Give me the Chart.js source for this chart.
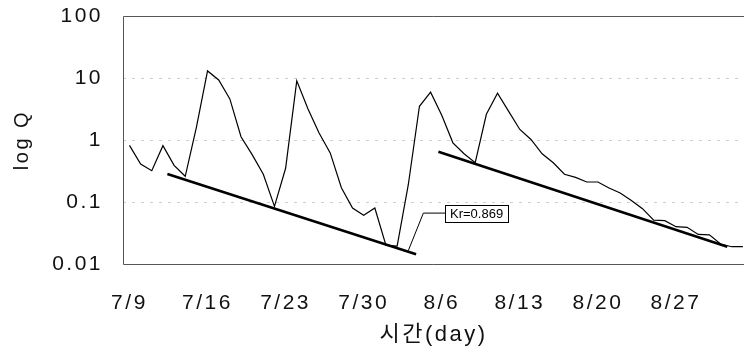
<!DOCTYPE html>
<html>
<head>
<meta charset="utf-8">
<script src="https://cdn.jsdelivr.net/npm/chart.js@4.4.0/dist/chart.umd.min.js"></script>
<style>
    html, body { margin: 0; padding: 0; background: #fff; }
</style>
</head>
<body>
<canvas id="chart" width="744" height="354"></canvas>
<script>
// Daily discharge (log scale), 7/9 - 9/2
const dates = [
    '7/9', '7/10', '7/11', '7/12', '7/13', '7/14', '7/15', '7/16', '7/17', '7/18',
    '7/19', '7/20', '7/21', '7/22', '7/23', '7/24', '7/25', '7/26', '7/27', '7/28',
    '7/29', '7/30', '7/31', '8/1', '8/2', '8/3', '8/4', '8/5', '8/6', '8/7',
    '8/8', '8/9', '8/10', '8/11', '8/12', '8/13', '8/14', '8/15', '8/16', '8/17',
    '8/18', '8/19', '8/20', '8/21', '8/22', '8/23', '8/24', '8/25', '8/26', '8/27',
    '8/28', '8/29', '8/30', '8/31', '9/1', '9/2'
];
const flow = [
    0.82, 0.41, 0.32, 0.81, 0.39, 0.26, 1.6, 13, 9.3, 4.6,
    1.13, 0.58, 0.28, 0.085, 0.35, 9.0, 3.2, 1.3, 0.62, 0.17,
    0.08, 0.061, 0.08, 0.02, 0.0195, 0.19, 3.5, 5.9, 2.5, 0.9,
    0.6, 0.43, 2.6, 5.7, 2.9, 1.48, 1.02, 0.6, 0.43, 0.28,
    0.25, 0.21, 0.21, 0.168, 0.14, 0.106, 0.078, 0.051, 0.05, 0.04,
    0.039, 0.03, 0.0295, 0.021, 0.019, 0.019
];

const xTickLabels = ['7/9', '7/16', '7/23', '7/30', '8/6', '8/13', '8/20', '8/27'];
const yTickValues = [0.01, 0.1, 1, 10, 100];
const yTickLabels = ['0.01', '0.1', '1', '10', '100'];

// recession lines (day index, Q)
const recession1Days = [3.4, 25.7];
const recession1Q = [0.284, 0.0144];
const recession2Days = [27.7, 53.6];
const recession2Q = [0.644, 0.019];

// callout for the recession constant
const leaderDays = [25.0, 26.35, 28.3];
const leaderQ = [0.0164, 0.0662, 0.0662];
const krLabel = 'Kr=0.869';

const FONT = '"Liberation Sans", Arial, "Noto Sans CJK KR", sans-serif';
const xTickDays = xTickLabels.map(l => dates.indexOf(l));

function toPoints(xs, ys) {
    return xs.map((x, i) => ({ x: x, y: ys[i] }));
}

function lineSet(data, width) {
    return {
        data: data,
        borderColor: '#000',
        borderWidth: width,
        pointRadius: 0,
        tension: 0,
        fill: false
    };
}

const spacingPlugin = {
    id: 'spacing',
    beforeUpdate(chart) { chart.ctx.letterSpacing = '2.5px'; },
    beforeDraw(chart) { chart.ctx.letterSpacing = '2.5px'; }
};

const framePlugin = {
    id: 'frame',
    beforeDatasetsDraw(chart) {
        const { ctx, chartArea } = chart;
        const l = Math.round(chartArea.left) + 0.5;
        const t = Math.round(chartArea.top) + 0.5;
        const b = Math.round(chartArea.bottom) + 0.5;
        ctx.save();
        ctx.strokeStyle = '#555';
        ctx.lineWidth = 1;
        ctx.beginPath();
        ctx.moveTo(chartArea.right, t);
        ctx.lineTo(l, t);
        ctx.lineTo(l, b);
        ctx.lineTo(chartArea.right, b);
        ctx.stroke();
        ctx.restore();
    }
};

const krPlugin = {
    id: 'krBox',
    afterDatasetsDraw(chart) {
        const ctx = chart.ctx;
        const x = Math.round(chart.scales.x.getPixelForValue(leaderDays[2]));
        const y = Math.round(chart.scales.y.getPixelForValue(leaderQ[2]));
        ctx.save();
        ctx.letterSpacing = '0px';
        ctx.font = '13px ' + FONT;
        const w = Math.round(ctx.measureText(krLabel).width) + 10;
        const h = 17;
        ctx.fillStyle = '#fff';
        ctx.fillRect(x, y - 8, w, h);
        ctx.strokeStyle = '#000';
        ctx.lineWidth = 1;
        ctx.strokeRect(x + 0.5, y - 8 + 0.5, w, h);
        ctx.fillStyle = '#000';
        ctx.textBaseline = 'middle';
        ctx.fillText(krLabel, x + 5, y + 1);
        ctx.restore();
    }
};

const ctx = document.getElementById('chart').getContext('2d');
new Chart(ctx, {
    type: 'line',
    data: {
        datasets: [
            lineSet(dates.map((d, i) => ({ x: i, y: flow[i] })), 1.2),
            lineSet(toPoints(recession1Days, recession1Q), 2.6),
            lineSet(toPoints(recession2Days, recession2Q), 2.6),
            lineSet(toPoints(leaderDays, leaderQ), 1)
        ]
    },
    options: {
        responsive: false,
        devicePixelRatio: 1,
        animation: false,
        layout: { padding: { top: 16, right: 0, bottom: 0, left: 0 } },
        plugins: {
            legend: { display: false },
            tooltip: { enabled: false }
        },
        scales: {
            x: {
                type: 'linear',
                min: -0.58,
                max: 55.1,
                grid: { display: false },
                border: { display: false },
                afterBuildTicks: function(scale) {
                    scale.ticks = xTickDays.map(v => ({ value: v }));
                },
                afterFit: function(scale) {
                    scale.height = 90;
                    scale.paddingLeft = 0;
                    scale.paddingRight = 0;
                },
                ticks: {
                    autoSkip: false,
                    maxRotation: 0,
                    padding: 19,
                    color: '#111',
                    font: { family: FONT, size: 21 },
                    callback: function(value, index) {
                        return xTickLabels[index];
                    }
                },
                title: {
                    display: true,
                    text: '시간(day)',
                    color: '#111',
                    font: { family: FONT, size: 22 },
                    padding: { top: 0, bottom: 6 }
                }
            },
            y: {
                type: 'logarithmic',
                min: 0.01,
                max: 100,
                grid: {
                    drawTicks: false,
                    color: function(c) {
                        const v = c.tick ? c.tick.value : null;
                        return (v === 0.1 || v === 1 || v === 10) ? '#cfcfcf' : 'rgba(0,0,0,0)';
                    }
                },
                border: { display: false, dash: [3, 6] },
                afterBuildTicks: function(scale) {
                    scale.ticks = yTickValues.map(v => ({ value: v }));
                },
                afterFit: function(scale) {
                    scale.width = 123;
                    scale.paddingTop = 0;
                    scale.paddingBottom = 0;
                },
                ticks: {
                    padding: 20,
                    color: '#111',
                    font: { family: FONT, size: 21 },
                    callback: function(value, index) {
                        return yTickLabels[index];
                    }
                },
                title: {
                    display: true,
                    text: 'log Q',
                    color: '#111',
                    font: { family: FONT, size: 20 },
                    padding: { top: 10, bottom: 0 }
                }
            }
        }
    },
    plugins: [spacingPlugin, framePlugin, krPlugin]
});
</script>
</body>
</html>
